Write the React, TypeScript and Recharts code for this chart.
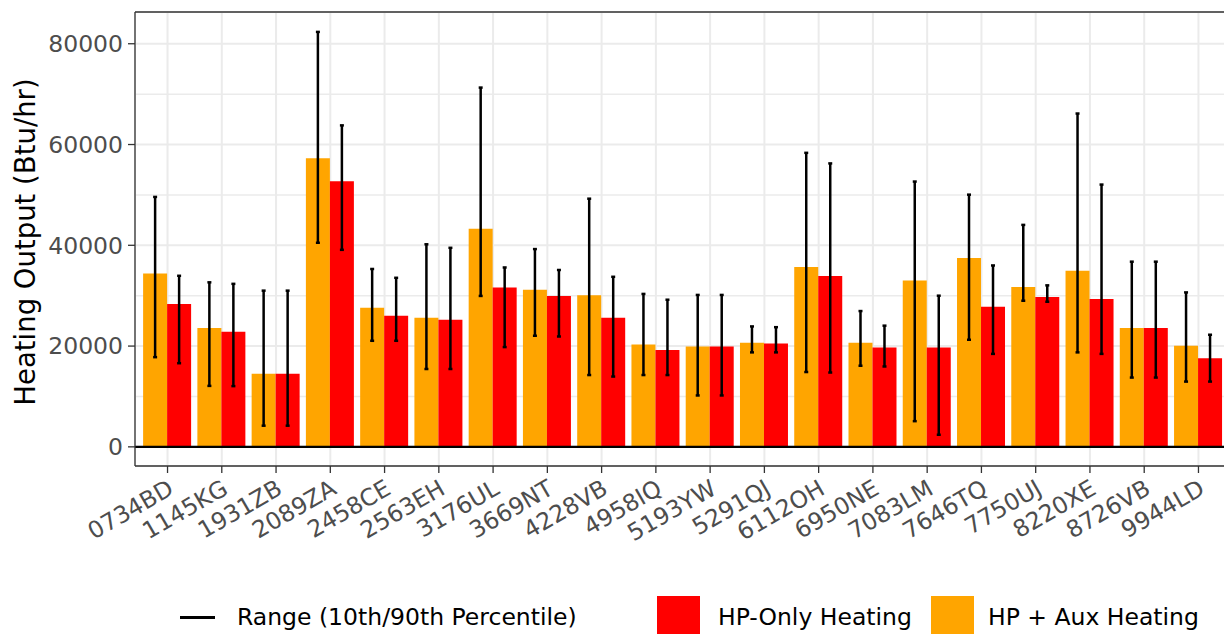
import {
  ComposedChart,
  Bar,
  XAxis,
  YAxis,
  CartesianGrid,
  ReferenceLine,
  ErrorBar,
} from 'recharts';

const FONT = '"DejaVu Sans", sans-serif';

// Heat pump units
const units = [
  '0734BD', '1145KG', '1931ZB', '2089ZA', '2458CE', '2563EH', '3176UL', '3669NT', '4228VB', '4958IQ',
  '5193YW', '5291QJ', '6112OH', '6950NE', '7083LM', '7646TQ', '7750UJ', '8220XE', '8726VB', '9944LD',
];

// HP + Aux heating output (Btu/hr): mean, 10th and 90th percentile
const auxMean = [34400, 23600, 14500, 57300, 27600, 25600, 43300, 31200, 30100, 20300, 19900, 20650, 35700, 20650, 33000, 37500, 31700, 34950, 23600, 20050];
const auxP10 = [17800, 12100, 4200, 40500, 21050, 15450, 29950, 22050, 14250, 14250, 10200, 18750, 14850, 16100, 5100, 21250, 29000, 18750, 13750, 12950];
const auxP90 = [49600, 32650, 31000, 82350, 35300, 40200, 71300, 39250, 49250, 30350, 30150, 23900, 58350, 26950, 52650, 50050, 44050, 66150, 36750, 30650];

// HP-only heating output (Btu/hr): mean, 10th and 90th percentile
const hpMean = [28350, 22850, 14500, 52700, 26000, 25200, 31600, 29950, 25600, 19200, 19900, 20500, 33900, 19700, 19700, 27800, 29750, 29350, 23600, 17600];
const hpP10 = [16600, 12050, 4200, 39100, 21050, 15450, 19800, 21900, 13950, 14250, 10200, 18750, 14750, 15950, 2400, 18450, 28800, 18450, 13750, 12950];
const hpP90 = [33950, 32350, 31000, 63800, 33550, 39500, 35600, 35100, 33750, 29200, 30150, 23750, 56250, 24050, 30000, 36000, 32050, 52050, 36750, 22250];

const yTicks = [0, 20000, 40000, 60000, 80000];
const yMinor = [10000, 30000, 50000, 70000];
const yDomain: [number, number] = [-3800, 86300];

const rows = units.map((unit, i) => ({
  unit,
  aux: auxMean[i],
  auxRange: [auxMean[i] - auxP10[i], auxP90[i] - auxMean[i]],
  hp: hpMean[i],
  hpRange: [hpMean[i] - hpP10[i], hpP90[i] - hpMean[i]],
}));

const ORANGE = '#FFA500';
const RED = '#FF0000';
const BORDER = { stroke: '#333333', strokeWidth: 1.3 };

function UnitTick({ x, payload }: any) {
  const ax = x - 1;
  const ay = 478;
  return (
    <text
      x={ax}
      y={ay}
      dy="0.74em"
      transform={`rotate(-30 ${ax} ${ay})`}
      textAnchor="end"
      fill="#4D4D4D"
      fontSize={23.5}
      fontFamily={FONT}
    >
      {payload.value}
    </text>
  );
}

function YTitle() {
  return (
    <text
      x={35}
      y={242}
      transform="rotate(-90 35 242)"
      textAnchor="middle"
      fill="#000"
      fontSize={27.5}
      fontFamily={FONT}
    >
      Heating Output (Btu/hr)
    </text>
  );
}

const legendText: React.CSSProperties = {
  position: 'absolute',
  top: 602,
  lineHeight: '30px',
  fontSize: 23.5,
  fontFamily: FONT,
  color: '#000',
  whiteSpace: 'nowrap',
};

function LegendRow() {
  return (
    <>
      <div style={{ position: 'absolute', left: 180, top: 616, width: 35, height: 2.5, background: '#000' }} />
      <span style={{ ...legendText, left: 237 }}>Range (10th/90th Percentile)</span>
      <div style={{ position: 'absolute', left: 657, top: 596, width: 43, height: 43, background: RED }} />
      <span style={{ ...legendText, left: 718 }}>HP-Only Heating</span>
      <div style={{ position: 'absolute', left: 931, top: 596, width: 43, height: 43, background: ORANGE }} />
      <span style={{ ...legendText, left: 988 }}>HP + Aux Heating</span>
    </>
  );
}

export default function App() {
  return (
    <div
      style={{
        position: 'absolute',
        left: 0,
        top: 0,
        width: 1224,
        height: 634,
        overflow: 'hidden',
        background: '#fff',
      }}
    >
      <ComposedChart
        width={1240}
        height={634}
        data={rows}
        margin={{ top: 10, right: 9, left: 0, bottom: 0 }}
        barCategoryGap="5%"
        barGap={0}
      >
        <CartesianGrid horizontalValues={yMinor} vertical={false} stroke="#EBEBEB" strokeWidth={1.5} />
        <CartesianGrid stroke="#EBEBEB" strokeWidth={2} />
        <XAxis
          dataKey="unit"
          height={168}
          interval={0}
          padding={{ left: 5.4, right: 5.4 }}
          axisLine={BORDER}
          tickLine={BORDER}
          tickSize={7}
          tick={<UnitTick />}
        />
        {/* top edge of the panel frame */}
        <XAxis
          xAxisId="top"
          orientation="top"
          dataKey="unit"
          height={2}
          axisLine={BORDER}
          tickLine={false}
          tick={false}
        />
        <YAxis
          width={135}
          domain={yDomain}
          ticks={yTicks}
          allowDataOverflow
          axisLine={BORDER}
          tickLine={BORDER}
          tickSize={7}
          tickMargin={5}
          tick={{ fill: '#4D4D4D', fontSize: 23.5, fontFamily: FONT }}
          label={<YTitle />}
        />
        <Bar dataKey="aux" fill={ORANGE} isAnimationActive={false}>
          <ErrorBar dataKey="auxRange" direction="y" width={2} stroke="#000" strokeWidth={2.5} isAnimationActive={false} />
        </Bar>
        <Bar dataKey="hp" fill={RED} isAnimationActive={false}>
          <ErrorBar dataKey="hpRange" direction="y" width={2} stroke="#000" strokeWidth={2.5} isAnimationActive={false} />
        </Bar>
        <ReferenceLine y={0} stroke="#000" strokeWidth={2.2} />
      </ComposedChart>
      <LegendRow />
    </div>
  );
}
